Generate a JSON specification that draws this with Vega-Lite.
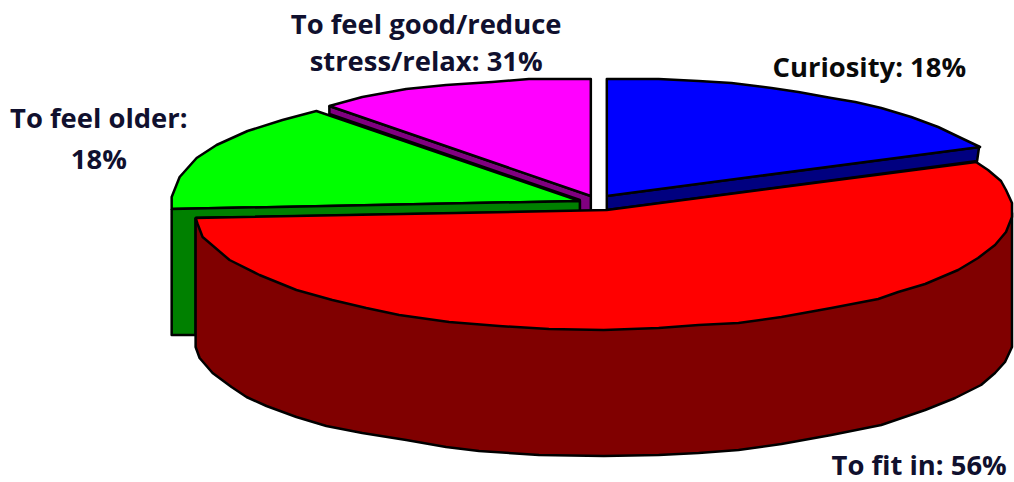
{"$schema":"https://vega.github.io/schema/vega-lite/v6.json","width":1014,"height":482,"autosize":{"type":"fit","contains":"padding"},"padding":0,"background":"white","config":{"view":{"stroke":null}},
"datasets":{"shapes":[
{"part":"a curiosity side","step":1,"x":608,"y":196},{"part":"a curiosity side","step":2,"x":981,"y":147},{"part":"a curiosity side","step":3,"x":979,"y":161},{"part":"a curiosity side","step":4,"x":608,"y":210},{"part":"a curiosity side","step":5,"x":608,"y":196},
{"part":"b curiosity","step":1,"x":608,"y":196},{"part":"b curiosity","step":2,"x":608,"y":79},{"part":"b curiosity","step":3,"x":660,"y":79},{"part":"b curiosity","step":4,"x":700,"y":81},{"part":"b curiosity","step":5,"x":733,"y":83},{"part":"b curiosity","step":6,"x":773,"y":88},{"part":"b curiosity","step":7,"x":800,"y":92},{"part":"b curiosity","step":8,"x":833,"y":98},{"part":"b curiosity","step":9,"x":857,"y":102},{"part":"b curiosity","step":10,"x":883,"y":108},{"part":"b curiosity","step":11,"x":913,"y":117},{"part":"b curiosity","step":12,"x":940,"y":127},{"part":"b curiosity","step":13,"x":963,"y":138},{"part":"b curiosity","step":14,"x":982,"y":147},{"part":"b curiosity","step":15,"x":608,"y":196},
{"part":"f older","step":1,"x":581,"y":201},{"part":"f older","step":2,"x":317,"y":111},{"part":"f older","step":3,"x":283,"y":120},{"part":"f older","step":4,"x":248,"y":131},{"part":"f older","step":5,"x":217,"y":145},{"part":"f older","step":6,"x":197,"y":158},{"part":"f older","step":7,"x":180,"y":177},{"part":"f older","step":8,"x":172,"y":197},{"part":"f older","step":9,"x":172,"y":209},{"part":"f older","step":10,"x":581,"y":201},
{"part":"c relax side","step":1,"x":330,"y":106},{"part":"c relax side","step":2,"x":592,"y":196},{"part":"c relax side","step":3,"x":592,"y":211},{"part":"c relax side","step":4,"x":581,"y":211},{"part":"c relax side","step":5,"x":581,"y":200},{"part":"c relax side","step":6,"x":330,"y":114},{"part":"c relax side","step":7,"x":330,"y":106},
{"part":"d relax","step":1,"x":592,"y":196},{"part":"d relax","step":2,"x":592,"y":79},{"part":"d relax","step":3,"x":530,"y":79},{"part":"d relax","step":4,"x":493,"y":82},{"part":"d relax","step":5,"x":447,"y":85},{"part":"d relax","step":6,"x":407,"y":89},{"part":"d relax","step":7,"x":363,"y":97},{"part":"d relax","step":8,"x":330,"y":106},{"part":"d relax","step":9,"x":592,"y":196},
{"part":"e older side","step":1,"x":172,"y":209},{"part":"e older side","step":2,"x":581,"y":201},{"part":"e older side","step":3,"x":581,"y":211},{"part":"e older side","step":4,"x":196,"y":218},{"part":"e older side","step":5,"x":196,"y":335},{"part":"e older side","step":6,"x":172,"y":335},{"part":"e older side","step":7,"x":172,"y":209},
{"part":"g fit in side","step":1,"x":196,"y":218},{"part":"g fit in side","step":2,"x":196,"y":347},{"part":"g fit in side","step":3,"x":200,"y":358},{"part":"g fit in side","step":4,"x":213,"y":373},{"part":"g fit in side","step":5,"x":232,"y":387},{"part":"g fit in side","step":6,"x":247,"y":397},{"part":"g fit in side","step":7,"x":267,"y":406},{"part":"g fit in side","step":8,"x":297,"y":417},{"part":"g fit in side","step":9,"x":327,"y":426},{"part":"g fit in side","step":10,"x":363,"y":433},{"part":"g fit in side","step":11,"x":407,"y":440},{"part":"g fit in side","step":12,"x":447,"y":447},{"part":"g fit in side","step":13,"x":480,"y":451},{"part":"g fit in side","step":14,"x":540,"y":455},{"part":"g fit in side","step":15,"x":605,"y":456},{"part":"g fit in side","step":16,"x":660,"y":455},{"part":"g fit in side","step":17,"x":700,"y":453},{"part":"g fit in side","step":18,"x":740,"y":450},{"part":"g fit in side","step":19,"x":783,"y":444},{"part":"g fit in side","step":20,"x":833,"y":435},{"part":"g fit in side","step":21,"x":883,"y":425},{"part":"g fit in side","step":22,"x":927,"y":410},{"part":"g fit in side","step":23,"x":957,"y":398},{"part":"g fit in side","step":24,"x":983,"y":385},{"part":"g fit in side","step":25,"x":997,"y":373},{"part":"g fit in side","step":26,"x":1007,"y":362},{"part":"g fit in side","step":27,"x":1014,"y":347},{"part":"g fit in side","step":28,"x":1014,"y":213},{"part":"g fit in side","step":29,"x":605,"y":212},{"part":"g fit in side","step":30,"x":196,"y":218},
{"part":"h fit in","step":1,"x":196,"y":218},{"part":"h fit in","step":2,"x":198,"y":224},{"part":"h fit in","step":3,"x":203,"y":237},{"part":"h fit in","step":4,"x":230,"y":260},{"part":"h fit in","step":5,"x":260,"y":275},{"part":"h fit in","step":6,"x":297,"y":290},{"part":"h fit in","step":7,"x":333,"y":300},{"part":"h fit in","step":8,"x":367,"y":308},{"part":"h fit in","step":9,"x":400,"y":315},{"part":"h fit in","step":10,"x":450,"y":322},{"part":"h fit in","step":11,"x":500,"y":326},{"part":"h fit in","step":12,"x":550,"y":329},{"part":"h fit in","step":13,"x":605,"y":330},{"part":"h fit in","step":14,"x":660,"y":328},{"part":"h fit in","step":15,"x":700,"y":325},{"part":"h fit in","step":16,"x":740,"y":323},{"part":"h fit in","step":17,"x":783,"y":317},{"part":"h fit in","step":18,"x":833,"y":308},{"part":"h fit in","step":19,"x":880,"y":299},{"part":"h fit in","step":20,"x":900,"y":292},{"part":"h fit in","step":21,"x":927,"y":284},{"part":"h fit in","step":22,"x":960,"y":270},{"part":"h fit in","step":23,"x":980,"y":258},{"part":"h fit in","step":24,"x":997,"y":245},{"part":"h fit in","step":25,"x":1008,"y":232},{"part":"h fit in","step":26,"x":1014,"y":217},{"part":"h fit in","step":27,"x":1014,"y":203},{"part":"h fit in","step":28,"x":1008,"y":190},{"part":"h fit in","step":29,"x":1003,"y":181},{"part":"h fit in","step":30,"x":990,"y":170},{"part":"h fit in","step":31,"x":978,"y":162},{"part":"h fit in","step":32,"x":608,"y":210},{"part":"h fit in","step":33,"x":196,"y":218}
],"labels":[
{"label":"To feel good/reduce","x":427,"y":26,"tone":"navy"},{"label":"stress/relax: 31%","x":427,"y":63,"tone":"navy"},{"label":"To feel older:","x":99,"y":120,"tone":"navy"},{"label":"18%","x":99,"y":161,"tone":"navy"},{"label":"Curiosity:  18%","x":871,"y":69,"tone":"black"},{"label":"To fit in: 56%","x":921,"y":467,"tone":"navy"}
]},
"layer":[
{"data":{"name":"shapes"},"mark":{"type":"line","stroke":"black","strokeWidth":2.5,"strokeJoin":"round","clip":false},
"encoding":{"x":{"field":"x","type":"quantitative","axis":null,"scale":{"domain":[0,1014],"nice":false,"zero":false}},"y":{"field":"y","type":"quantitative","axis":null,"scale":{"domain":[482,0],"nice":false,"zero":false}},"order":{"field":"step","type":"quantitative"},"detail":{"field":"part"},"fill":{"field":"part","type":"nominal","legend":null,"scale":{"domain":["a curiosity side","b curiosity","c relax side","d relax","e older side","f older","g fit in side","h fit in"],"range":["#000080","#0000ff","#800080","#ff00ff","#008000","#00ff00","#800000","#ff0000"]}}}},
{"data":{"name":"labels"},"mark":{"type":"text","font":"Open Sans","fontWeight":"bold","fontSize":27.4,"align":"center","baseline":"middle"},
"encoding":{"x":{"field":"x","type":"quantitative"},"y":{"field":"y","type":"quantitative"},"text":{"field":"label"},"color":{"field":"tone","type":"nominal","legend":null,"scale":{"domain":["navy","black"],"range":["#10102e","#0a0a0a"]}}}}
]}
